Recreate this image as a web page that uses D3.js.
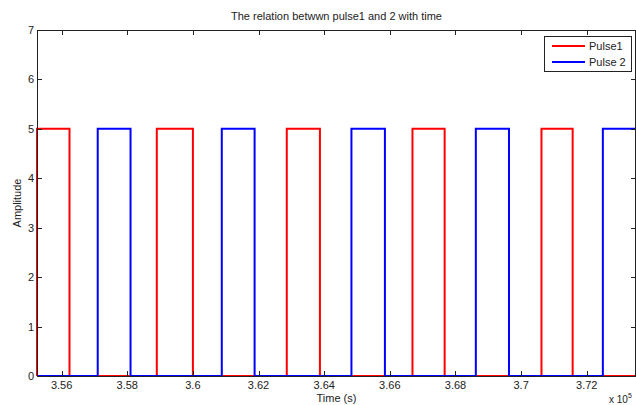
<!DOCTYPE html>
<html>
<head>
<meta charset="utf-8">
<script src="https://cdn.jsdelivr.net/npm/d3@7"></script>
<style>
body { margin: 0; background: #fff; }
svg { display: block; font-family: "Liberation Sans", Arial, sans-serif; }
</style>
</head>
<body>
<div id="chart"></div>
<script>
// times in units of 1e5 s
const pulse1On  = [3.5525, 3.5890, 3.6286, 3.6669, 3.7062]
const pulse1Off = [3.5624, 3.6000, 3.6387, 3.6767, 3.7157]
const pulse2On  = [3.5710, 3.6088, 3.6483, 3.6862, 3.7249]
const pulse2Off = [3.5810, 3.6188, 3.6585, 3.6963, 3.7400]
const amplitude = 5
const xTicks = [3.56, 3.58, 3.6, 3.62, 3.64, 3.66, 3.68, 3.7, 3.72]
const yTicks = [0, 1, 2, 3, 4, 5, 6, 7]
const xDomain = [3.5525, 3.735]

const width = 636
const height = 405
const margin = { top: 30, right: 0, bottom: 29, left: 37 }

const svg = d3.select('#chart').append('svg')
	.attr('width', width)
	.attr('height', height)

const x = d3.scaleLinear().domain(xDomain).range([margin.left, width - margin.right])
const y = d3.scaleLinear().domain([0, 7]).range([height - margin.bottom, margin.top])

// turn on/off times into a step trace starting and ending at zero
function steps(on, off) {
	const pts = [[xDomain[0], 0]]
	on.forEach((t, i) => {
		pts.push([t, 0], [t, amplitude], [off[i], amplitude], [off[i], 0])
	})
	pts.push([xDomain[1] + 0.02, 0])
	return pts
}

svg.append('defs').append('clipPath').attr('id', 'clip')
	.append('rect')
	.attr('x', margin.left - 1).attr('y', margin.top - 2)
	.attr('width', width - margin.left - margin.right + 2)
	.attr('height', height - margin.top - margin.bottom + 4)

const line = d3.line().x(d => x(d[0])).y(d => y(d[1]))

const plot = svg.append('g').attr('clip-path', 'url(#clip)')
plot.append('path')
	.attr('d', line(steps(pulse1On, pulse1Off)))
	.attr('fill', 'none').attr('stroke', '#ff0000').attr('stroke-width', 2)
plot.append('path')
	.attr('d', line(steps(pulse2On, pulse2Off)))
	.attr('fill', 'none').attr('stroke', '#0000ff').attr('stroke-width', 2)

// axes box, ticks pointing inward like matlab
const x0 = margin.left, x1 = width - margin.right
const y0 = height - margin.bottom, y1 = margin.top
const frame = svg.append('g').attr('stroke', '#222').attr('stroke-width', 1)
frame.append('line').attr('x1', x0 + 0.5).attr('x2', x0 + 0.5).attr('y1', y1).attr('y2', y0)
frame.append('line').attr('x1', x0).attr('x2', x1).attr('y1', y1 + 0.5).attr('y2', y1 + 0.5)
frame.append('line').attr('x1', x0).attr('x2', x1).attr('y1', y0 + 0.5).attr('y2', y0 + 0.5)
frame.append('line').attr('x1', x1 - 0.5).attr('x2', x1 - 0.5).attr('y1', y1).attr('y2', y0)

xTicks.forEach(t => {
	const px = Math.round(x(t)) + 0.5
	frame.append('line').attr('x1', px).attr('x2', px).attr('y1', y0).attr('y2', y0 - 5)
	frame.append('line').attr('x1', px).attr('x2', px).attr('y1', y1).attr('y2', y1 + 5)
})
yTicks.forEach(t => {
	const py = Math.round(y(t)) + 0.5
	frame.append('line').attr('x1', x0).attr('x2', x0 + 5).attr('y1', py).attr('y2', py)
	frame.append('line').attr('x1', x1).attr('x2', x1 - 5).attr('y1', py).attr('y2', py)
})

const labels = svg.append('g').attr('font-size', 11).attr('fill', '#222')
labels.selectAll('.xt').data(xTicks).join('text')
	.attr('x', d => x(d)).attr('y', y0 + 13)
	.attr('text-anchor', 'middle')
	.text(d => d3.format('')(d))
labels.selectAll('.yt').data(yTicks).join('text')
	.attr('x', x0 - 3).attr('y', d => y(d) + 4)
	.attr('text-anchor', 'end')
	.text(d => d)

labels.append('text')
	.attr('x', (x0 + x1) / 2).attr('y', 402)
	.attr('text-anchor', 'middle')
	.text('Time (s)')
labels.append('text')
	.attr('transform', `translate(21,${(y0 + y1) / 2}) rotate(-90)`)
	.attr('text-anchor', 'middle')
	.text('Amplitude')
labels.append('text')
	.attr('x', (x0 + x1) / 2).attr('y', 20)
	.attr('text-anchor', 'middle')
	.text('The relation betwwn pulse1 and 2 with time')

const mult = labels.append('text').attr('x', 609).attr('y', 403).attr('font-size', 10)
mult.append('tspan').text('x 10')
mult.append('tspan').attr('dy', -5).attr('font-size', 7).text('5')

// legend
const legend = svg.append('g')
legend.append('rect')
	.attr('x', 544.5).attr('y', 36.5).attr('width', 87).attr('height', 35)
	.attr('fill', '#fff').attr('stroke', '#222')
const entries = [['Pulse1', '#ff0000'], ['Pulse 2', '#0000ff']]
entries.forEach((e, i) => {
	const ly = 46 + i * 16
	legend.append('line')
		.attr('x1', 552).attr('x2', 585).attr('y1', ly).attr('y2', ly)
		.attr('stroke', e[1]).attr('stroke-width', 2)
	legend.append('text')
		.attr('x', 589).attr('y', ly + 4)
		.attr('font-size', 11).attr('fill', '#222')
		.text(e[0])
})
</script>
</body>
</html>
